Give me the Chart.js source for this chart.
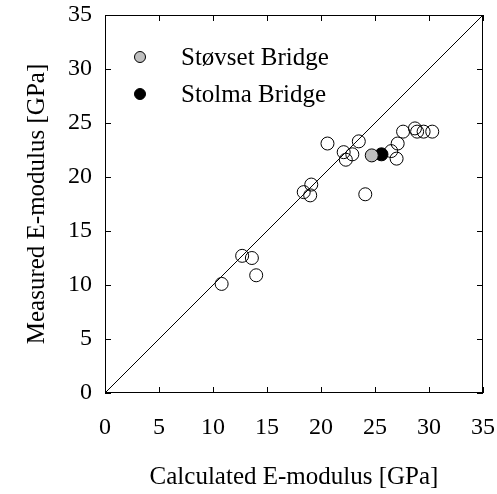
<!DOCTYPE html>
<html>
<head>
<meta charset="utf-8">
<script src="https://cdn.jsdelivr.net/npm/chart.js@4/dist/chart.umd.min.js"></script>
<style>
  html, body { margin: 0; padding: 0; background: #fff; }
  #wrap { width: 497px; height: 494px; }
</style>
</head>
<body>
<div id="wrap"><canvas id="chart" width="497" height="494"></canvas></div>
<script>
/* ================== DATA ================== */
const TICKS = [0, 5, 10, 15, 20, 25, 30, 35];

// other bridges (open circles)
const CALC_OTHER = [10.8, 12.7, 13.6, 14.0, 18.4, 19.0, 19.1, 20.6, 22.1, 22.3, 22.9, 23.5, 24.1, 26.5, 27.1, 27.0, 27.6, 28.7, 28.9, 29.5, 30.3];
const MEAS_OTHER = [10.1, 12.7, 12.5, 10.9, 18.6, 18.3, 19.3, 23.1, 22.3, 21.6, 22.1, 23.3, 18.4, 22.4, 23.1, 21.7, 24.2, 24.5, 24.2, 24.2, 24.2];

const CALC_STOVSET = [24.7];
const MEAS_STOVSET = [22.0];
const CALC_STOLMA = [25.6];
const MEAS_STOLMA = [22.1];

// 1:1 line
const LINE_X = [0, 35];
const LINE_Y = [0, 35];

const LEGEND = [
  { label: "Støvset Bridge", fill: "#bfbfbf" },
  { label: "Stolma Bridge", fill: "#000000" },
];

/* ================== STYLE ================== */
const FONT = "'Liberation Serif', 'Times New Roman', serif";
const zip = (xs, ys) => xs.map((x, i) => ({ x, y: ys[i] }));

// fixed axis boxes, no extra label padding (plot area set by layout padding)
const fixBox = (size) => (s) => {
  if (s.isHorizontal()) s.height = size; else s.width = size;
  s.paddingTop = s.paddingBottom = s.paddingLeft = s.paddingRight = 0;
};

/* ================== PLUGINS ================== */
// frame + inward ticks on all four sides
const framePlugin = {
  id: "frame",
  afterDatasetsDraw(chart) {
    const { ctx, chartArea: a, scales } = chart;
    const len = 6;
    ctx.save();
    ctx.strokeStyle = "#000";
    ctx.lineWidth = 1;
    ctx.strokeRect(a.left + 0.5, a.top + 0.5, a.right - a.left - 1, a.bottom - a.top - 1);
    ctx.beginPath();
    for (const v of TICKS) {
      const px = Math.round(scales.x.getPixelForValue(v)) + 0.5;
      ctx.moveTo(px, a.bottom); ctx.lineTo(px, a.bottom - len);
      ctx.moveTo(px, a.top); ctx.lineTo(px, a.top + len);
      const py = Math.round(scales.y.getPixelForValue(v)) + 0.5;
      ctx.moveTo(a.left, py); ctx.lineTo(a.left + len, py);
      ctx.moveTo(a.right, py); ctx.lineTo(a.right - len, py);
    }
    ctx.stroke();
    ctx.restore();
  },
};

// legend inside the plot, top-left
const legendPlugin = {
  id: "innerLegend",
  afterDraw(chart) {
    const { ctx, chartArea: a } = chart;
    ctx.save();
    ctx.font = "25px " + FONT;
    ctx.textBaseline = "middle";
    LEGEND.forEach((item, i) => {
      const cy = a.top + 42 + i * 37;
      ctx.beginPath();
      ctx.arc(a.left + 35, cy, 5.5, 0, Math.PI * 2);
      ctx.fillStyle = item.fill;
      ctx.fill();
      ctx.lineWidth = 1;
      ctx.strokeStyle = "#000";
      ctx.stroke();
      ctx.fillStyle = "#000";
      ctx.fillText(item.label, a.left + 76, cy + 1);
    });
    ctx.restore();
  },
};

/* ================== CHART ================== */
const pointStyle = (fill) => ({
  pointRadius: 6.5,
  pointHoverRadius: 6.5,
  pointBorderWidth: 1,
  pointBorderColor: "#000",
  pointBackgroundColor: fill,
  showLine: false,
});

new Chart(document.getElementById("chart"), {
  type: "scatter",
  data: {
    datasets: [
      {
        type: "line",
        data: zip(LINE_X, LINE_Y),
        borderColor: "#000",
        borderWidth: 1,
        pointRadius: 0,
        fill: false,
      },
      { data: zip(CALC_OTHER, MEAS_OTHER), ...pointStyle("rgba(255,255,255,0)") },
      { data: zip(CALC_STOVSET, MEAS_STOVSET), ...pointStyle("#bfbfbf") },
      { data: zip(CALC_STOLMA, MEAS_STOLMA), ...pointStyle("#000") },
    ],
  },
  options: {
    responsive: false,
    devicePixelRatio: 1,
    animation: false,
    layout: { padding: { top: 15, right: 14, left: 0, bottom: 0 } },
    plugins: { legend: { display: false }, tooltip: { enabled: false } },
    scales: {
      x: {
        type: "linear",
        min: 0,
        max: 35,
        afterBuildTicks: (s) => { s.ticks = TICKS.map((v) => ({ value: v })); },
        afterFit: fixBox(101),
        grid: { display: false, drawTicks: false },
        border: { display: false },
        ticks: { color: "#000", font: { family: FONT, size: 24 }, padding: 20, maxRotation: 0 },
        title: {
          display: true,
          text: "Calculated E-modulus [GPa]",
          color: "#000",
          font: { family: FONT, size: 25 },
          padding: { top: 0, bottom: 2 },
        },
      },
      y: {
        type: "linear",
        min: 0,
        max: 35,
        afterBuildTicks: (s) => { s.ticks = TICKS.map((v) => ({ value: v })); },
        afterFit: fixBox(105),
        grid: { display: false, drawTicks: false },
        border: { display: false },
        ticks: { color: "#000", font: { family: FONT, size: 24 }, padding: 13 },
        title: {
          display: true,
          text: "Measured E-modulus [GPa]",
          color: "#000",
          font: { family: FONT, size: 25 },
          padding: { top: 22, bottom: 0 },
        },
      },
    },
  },
  plugins: [framePlugin, legendPlugin],
});
</script>
</body>
</html>
